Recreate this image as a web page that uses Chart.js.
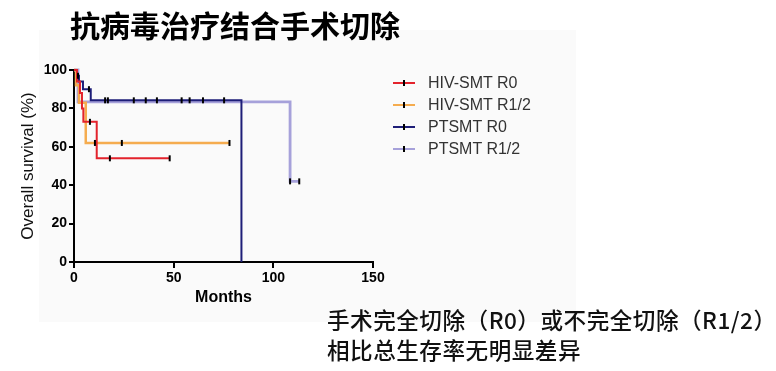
<!DOCTYPE html>
<html>
<head>
<meta charset="utf-8">
<script src="https://cdn.jsdelivr.net/npm/chart.js@4"></script>
<style>
  body { margin: 0; width: 776px; height: 371px; background: #fff; position: relative; overflow: hidden; }
  #wrap { position: absolute; left: 0; top: 0; width: 776px; height: 371px; }
  #title { position: absolute; left: 70px; top: 9px; font: bold 30px "Noto Sans CJK SC"; line-height: 30px; color: #000; white-space: nowrap; }
  #note { position: absolute; left: 327px; top: 305px; font: 500 22.6px "Noto Sans CJK SC"; line-height: 30px; letter-spacing: 0.5px; color: #111; white-space: nowrap; }
  #legend { position: absolute; left: 393px; top: 72px; font: 16px "Liberation Sans"; color: #333; }
  .row { position: relative; height: 22px; line-height: 22px; white-space: nowrap; }
  .row .ln { position: absolute; left: 0; top: 10px; width: 22px; height: 2px; }
  .row .tk { position: absolute; left: 10px; top: 8px; width: 2px; height: 6px; background: #000; }
  .row span.lbl { position: absolute; left: 35px; top: 0; }
</style>
</head>
<body>
<div id="wrap"><canvas id="chart"></canvas></div>
<div id="title">抗病毒治疗结合手术切除</div>
<div id="legend"></div>
<div id="note">手术完全切除（R0）或不完全切除（R1/2）<br>相比总生存率无明显差异</div>
<script>
// --- series names & colours ---
const seriesNames = ['HIV-SMT R0', 'HIV-SMT R1/2', 'PTSMT R0', 'PTSMT R1/2'];
const seriesColors = ['#e3232c', '#f5ac4f', '#1e1e78', '#a6a1da'];

// --- HIV-SMT R0 ---
const redTime = [0, 1.5, 3, 4, 4.7, 11.4, 48];
const redSurv = [100, 94, 88, 80, 73, 54, 54];
const redCensorTime = [8, 18, 48];
const redCensorSurv = [73, 54, 54];

// --- HIV-SMT R1/2 ---
const orangeTime = [0, 1, 2.5, 5.9, 78];
const orangeSurv = [100, 92, 83, 62, 62];
const orangeCensorTime = [10.5, 24, 78];
const orangeCensorSurv = [62, 62, 62];

// --- PTSMT R0 ---
const navyTime = [0, 1, 2.5, 4.5, 8.4, 84];
const navySurv = [100, 97, 94, 90, 84.2, 0];
const navyCensorTime = [2, 7.5, 15.6, 17, 30, 36, 41.6, 54, 58, 64.7, 75.3];
const navyCensorSurv = [97, 90, 84.2, 84.2, 84.2, 84.2, 84.2, 84.2, 84.2, 84.2, 84.2];

// --- PTSMT R1/2 ---
const purpleTime = [0, 2, 108.4, 113];
const purpleSurv = [100, 83.4, 42, 42];
const purpleCensorTime = [108.4, 113];
const purpleCensorSurv = [42, 42];

// --- axis ticks ---
const xTicks = [0, 50, 100, 150];
const yTicks = [0, 20, 40, 60, 80, 100];

const pts = (t, s) => t.map((x, i) => ({ x, y: s[i] }));

function curve(t, s, color, width) {
  return { type: 'line', data: pts(t, s), stepped: true, borderColor: color, borderWidth: width,
           pointRadius: 0, fill: false, clip: false };
}
function censor(t, s) {
  return { type: 'scatter', data: pts(t, s), pointStyle: 'line', rotation: 90, pointRadius: 3,
           borderColor: '#000', borderWidth: 2, pointHoverRadius: 0, clip: false };
}

// light panel behind the figure
const panel = {
  id: 'panel',
  beforeDraw(c) {
    const g = c.ctx;
    g.save(); g.fillStyle = '#fafafa'; g.fillRect(39, 30, 537, 292); g.restore();
  }
};

new Chart(document.getElementById('chart'), {
  data: {
    datasets: [
      censor(redCensorTime, redCensorSurv),
      censor(orangeCensorTime, orangeCensorSurv),
      censor(navyCensorTime, navyCensorSurv),
      censor(purpleCensorTime, purpleCensorSurv),
      curve(redTime, redSurv, seriesColors[0], 2),
      curve(orangeTime, orangeSurv, seriesColors[1], 2.5),
      curve(navyTime, navySurv, seriesColors[2], 2),
      curve(purpleTime, purpleSurv, seriesColors[3], 2.8)
    ]
  },
  options: {
    responsive: true,
    maintainAspectRatio: false,
    animation: false,
    layout: { padding: { left: 18, top: 70, right: 403, bottom: 64 } },
    plugins: { legend: { display: false }, tooltip: { enabled: false } },
    scales: {
      x: {
        type: 'linear', min: 0, max: 150,
        afterBuildTicks: s => { s.ticks = xTicks.map(v => ({ value: v })); },
        afterFit: s => { s.height = 45; },
        ticks: { color: '#000', font: { family: 'Liberation Sans', size: 14, weight: 'bold' }, padding: 2, maxRotation: 0 },
        grid: { drawOnChartArea: false, drawTicks: true, tickLength: 6, color: '#000', lineWidth: 2 },
        border: { color: '#000', width: 2 },
        title: { display: true, text: 'Months', color: '#000', padding: 0,
                 font: { family: 'Liberation Sans', size: 16, weight: 'bold' } }
      },
      y: {
        type: 'linear', min: 0, max: 100,
        afterBuildTicks: s => { s.ticks = yTicks.map(v => ({ value: v })); },
        afterFit: s => { s.width = 56; },
        ticks: { color: '#000', font: { family: 'Liberation Sans', size: 14, weight: 'bold' }, padding: 2 },
        grid: { drawOnChartArea: false, drawTicks: true, tickLength: 5, color: '#000', lineWidth: 2 },
        border: { color: '#000', width: 2 },
        title: { display: true, text: 'Overall survival (%)', color: '#111', padding: 0,
                 font: { family: 'Liberation Sans', size: 17 } }
      }
    }
  },
  plugins: [panel]
});

// --- legend ---
const legend = document.getElementById('legend');
seriesNames.forEach((name, i) => {
  const row = document.createElement('div');
  row.className = 'row';
  row.innerHTML = `<div class="ln" style="background:${seriesColors[i]}"></div><div class="tk"></div><span class="lbl">${name}</span>`;
  legend.appendChild(row);
});
</script>
</body>
</html>
